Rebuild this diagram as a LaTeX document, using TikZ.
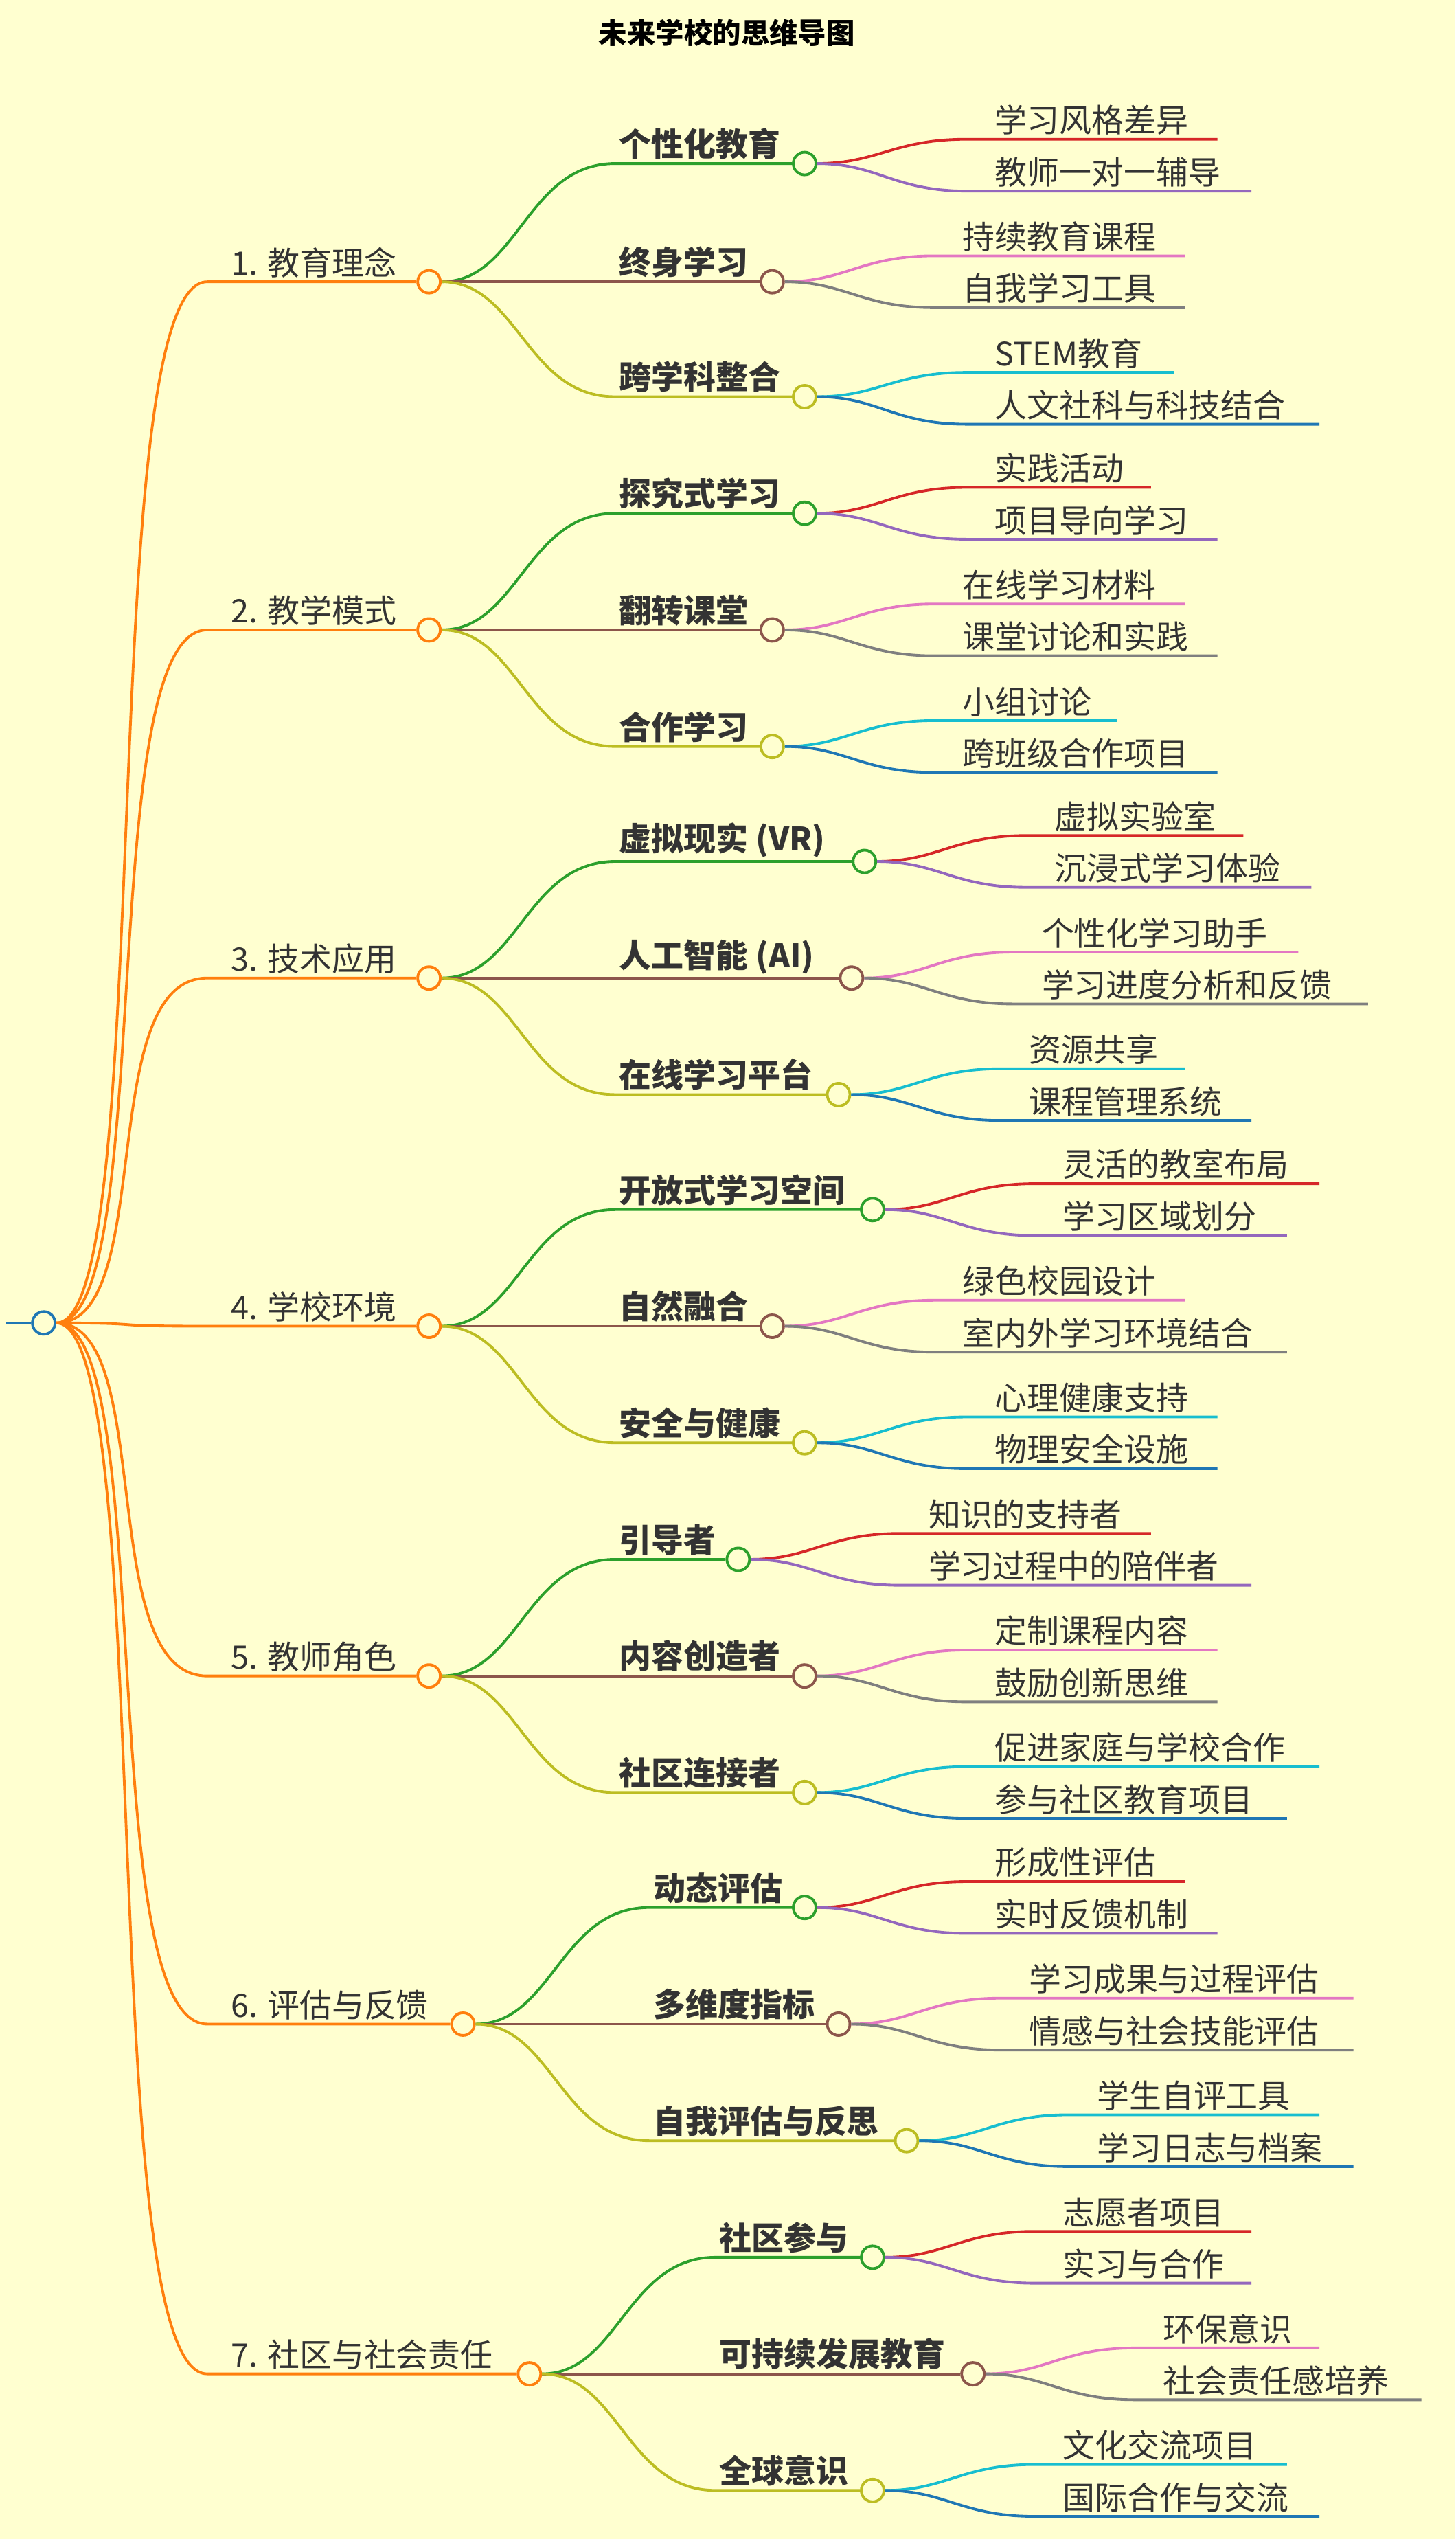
\documentclass[tikz,border=0pt]{standalone}
\usepackage{fontspec}
\setmainfont{Noto Sans CJK SC}
\usetikzlibrary{positioning,calc}
\definecolor{bgc}{HTML}{FFFFD0}
\definecolor{txt}{HTML}{333333}
\definecolor{corange}{HTML}{FF7F0E}
\definecolor{cblue}{HTML}{1F77B4}
\definecolor{cgreen}{HTML}{2CA02C}
\definecolor{cbrown}{HTML}{8C564B}
\definecolor{colive}{HTML}{BCBD22}
\definecolor{cred}{HTML}{D62728}
\definecolor{cpurple}{HTML}{9467BD}
\definecolor{cpink}{HTML}{E377C2}
\definecolor{cgray}{HTML}{7F7F7F}
\definecolor{ccyan}{HTML}{17BECF}

\tikzset{
  dot/.style={circle, draw=#1, fill=bgc, line width=1.4pt, minimum size=0.42cm, inner sep=0pt},
  link/.style={draw=#1, line width=1.4pt},
  label1/.style={anchor=south west, inner sep=2pt, text=txt, font=\fontsize{17}{20}\selectfont},
  label2/.style={anchor=south west, inner sep=2pt, text=txt, font=\fontsize{17}{20}\selectfont\bfseries},
  label3/.style={anchor=south west, inner sep=2pt, text=txt, font=\fontsize{17}{20}\selectfont}
}

% topic: id, y, circle x, text
\newcommand\topic[4]{%
  \coordinate (#1s) at (128,#2);
  \node[dot=corange] (#1) at (#3,#2) {};
  \draw[link=corange] (root) .. controls +(70,0) and +(-70,0) .. (#1s) -- (#1);
  \node[label1] (#1t) at (140,#2) {#4};
}
% branch: parent, parent x, id, y, circle x, text, colour
\newcommand\branch[7]{%
  \coordinate (#3s) at (#2+115,#4);
  \node[dot=#7] (#3) at (#5,#4) {};
  \draw[link=#7] (#1) .. controls +(55,0) and +(-55,0) .. (#3s) -- (#3);
  \node[label2] (#3t) at (#2+115,#4) {#6};
}
% leaf: parent, parent x, id, y, end x, text, colour
\newcommand\leaf[7]{%
  \coordinate (#3s) at (#2+100,#4);
  \coordinate (#3e) at (#5,#4);
  \draw[link=#7] (#1) .. controls +(45,0) and +(-45,0) .. (#3s) -- (#3e);
  \node[label3] (#3t) at (#2+115,#4) {#6};
}

\begin{document}
\begin{tikzpicture}[x=0.03cm, y=-0.03cm]

\fill[bgc] (0,0) rectangle (899,1568);
\useasboundingbox (0,0) rectangle (899,1568);

% Title
\node[text=black, font=\fontsize{15}{18}\selectfont\bfseries] (title) at (449,20) {未来学校的思维导图};

% Root
\node[dot=cblue] (root) at (27,817) {};
\coordinate (rootin) at (4,817);
\draw[link=cblue] (rootin) -- (root);

% 1
\topic{a}{174}{265}{1. 教育理念}
\branch{a}{265}{a1}{101}{497}{个性化教育}{cgreen}
\leaf{a1}{497}{a11}{86}{752}{学习风格差异}{cred}
\leaf{a1}{497}{a12}{118}{773}{教师一对一辅导}{cpurple}
\branch{a}{265}{a2}{174}{477}{终身学习}{cbrown}
\leaf{a2}{477}{a21}{158}{732}{持续教育课程}{cpink}
\leaf{a2}{477}{a22}{190}{732}{自我学习工具}{cgray}
\branch{a}{265}{a3}{245}{497}{跨学科整合}{colive}
\leaf{a3}{497}{a31}{230}{725}{STEM教育}{ccyan}
\leaf{a3}{497}{a32}{262}{815}{人文社科与科技结合}{cblue}

% 2
\topic{b}{389}{265}{2. 教学模式}
\branch{b}{265}{b1}{317}{497}{探究式学习}{cgreen}
\leaf{b1}{497}{b11}{301}{711}{实践活动}{cred}
\leaf{b1}{497}{b12}{333}{752}{项目导向学习}{cpurple}
\branch{b}{265}{b2}{389}{477}{翻转课堂}{cbrown}
\leaf{b2}{477}{b21}{373}{732}{在线学习材料}{cpink}
\leaf{b2}{477}{b22}{405}{752}{课堂讨论和实践}{cgray}
\branch{b}{265}{b3}{461}{477}{合作学习}{colive}
\leaf{b3}{477}{b31}{445}{690}{小组讨论}{ccyan}
\leaf{b3}{477}{b32}{477}{752}{跨班级合作项目}{cblue}

% 3
\topic{c}{604}{265}{3. 技术应用}
\branch{c}{265}{c1}{532}{534}{虚拟现实 (VR)}{cgreen}
\leaf{c1}{534}{c11}{516}{768}{虚拟实验室}{cred}
\leaf{c1}{534}{c12}{548}{810}{沉浸式学习体验}{cpurple}
\branch{c}{265}{c2}{604}{526}{人工智能 (AI)}{cbrown}
\leaf{c2}{526}{c21}{588}{802}{个性化学习助手}{cpink}
\leaf{c2}{526}{c22}{620}{845}{学习进度分析和反馈}{cgray}
\branch{c}{265}{c3}{676}{518}{在线学习平台}{colive}
\leaf{c3}{518}{c31}{660}{732}{资源共享}{ccyan}
\leaf{c3}{518}{c32}{692}{773}{课程管理系统}{cblue}

% 4
\topic{d}{819}{265}{4. 学校环境}
\branch{d}{265}{d1}{747}{539}{开放式学习空间}{cgreen}
\leaf{d1}{539}{d11}{731}{815}{灵活的教室布局}{cred}
\leaf{d1}{539}{d12}{763}{795}{学习区域划分}{cpurple}
\branch{d}{265}{d2}{819}{477}{自然融合}{cbrown}
\leaf{d2}{477}{d21}{803}{732}{绿色校园设计}{cpink}
\leaf{d2}{477}{d22}{835}{795}{室内外学习环境结合}{cgray}
\branch{d}{265}{d3}{891}{497}{安全与健康}{colive}
\leaf{d3}{497}{d31}{875}{752}{心理健康支持}{ccyan}
\leaf{d3}{497}{d32}{907}{752}{物理安全设施}{cblue}

% 5
\topic{e}{1035}{265}{5. 教师角色}
\branch{e}{265}{e1}{963}{456}{引导者}{cgreen}
\leaf{e1}{456}{e11}{947}{711}{知识的支持者}{cred}
\leaf{e1}{456}{e12}{979}{773}{学习过程中的陪伴者}{cpurple}
\branch{e}{265}{e2}{1035}{497}{内容创造者}{cbrown}
\leaf{e2}{497}{e21}{1019}{752}{定制课程内容}{cpink}
\leaf{e2}{497}{e22}{1051}{752}{鼓励创新思维}{cgray}
\branch{e}{265}{e3}{1107}{497}{社区连接者}{colive}
\leaf{e3}{497}{e31}{1091}{815}{促进家庭与学校合作}{ccyan}
\leaf{e3}{497}{e32}{1123}{795}{参与社区教育项目}{cblue}

% 6
\topic{f}{1250}{286}{6. 评估与反馈}
\branch{f}{286}{f1}{1178}{497}{动态评估}{cgreen}
\leaf{f1}{497}{f11}{1162}{732}{形成性评估}{cred}
\leaf{f1}{497}{f12}{1194}{752}{实时反馈机制}{cpurple}
\branch{f}{286}{f2}{1250}{518}{多维度指标}{cbrown}
\leaf{f2}{518}{f21}{1234}{836}{学习成果与过程评估}{cpink}
\leaf{f2}{518}{f22}{1266}{836}{情感与社会技能评估}{cgray}
\branch{f}{286}{f3}{1322}{560}{自我评估与反思}{colive}
\leaf{f3}{560}{f31}{1306}{815}{学生自评工具}{ccyan}
\leaf{f3}{560}{f32}{1338}{836}{学习日志与档案}{cblue}

% 7
\topic{g}{1466}{327}{7. 社区与社会责任}
\branch{g}{327}{g1}{1394}{539}{社区参与}{cgreen}
\leaf{g1}{539}{g11}{1378}{773}{志愿者项目}{cred}
\leaf{g1}{539}{g12}{1410}{773}{实习与合作}{cpurple}
\branch{g}{327}{g2}{1466}{601}{可持续发展教育}{cbrown}
\leaf{g2}{601}{g21}{1450}{815}{环保意识}{cpink}
\leaf{g2}{601}{g22}{1482}{878}{社会责任感培养}{cgray}
\branch{g}{327}{g3}{1538}{539}{全球意识}{colive}
\leaf{g3}{539}{g31}{1522}{795}{文化交流项目}{ccyan}
\leaf{g3}{539}{g32}{1554}{815}{国际合作与交流}{cblue}

\end{tikzpicture}
\end{document}
